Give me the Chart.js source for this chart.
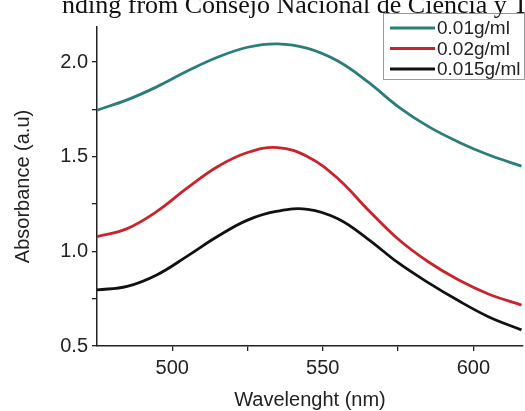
<!DOCTYPE html>
<html>
<head>
<meta charset="utf-8">
<script src="https://cdn.jsdelivr.net/npm/chart.js@4"></script>
<style>
  html, body { margin: 0; padding: 0; background: #fff; overflow: hidden; }
  #wrap { position: relative; width: 525px; height: 411px; overflow: hidden; }
  #header { position: absolute; left: 62px; top: -8px; font-family: "Liberation Serif", "Times New Roman", serif; font-size: 26px; line-height: 26px; white-space: nowrap; color: #111; }
  canvas { position: absolute; left: 0; top: 0; }
</style>
</head>
<body>
<div id="wrap">
  <canvas id="c" width="525" height="411"></canvas>
  <div id="header">nding from Consejo Nacional de Ciencia y T</div>
</div>
<script>
// ---- data ----
const wavelengths = [475, 485, 495, 505, 515, 525, 535, 545, 555, 565, 575, 585, 595, 605, 616];
const conc001  = [1.746, 1.80, 1.87, 1.952, 2.025, 2.078, 2.096, 2.072, 2.005, 1.895, 1.765, 1.66, 1.578, 1.51, 1.45];
const conc002  = [1.077, 1.12, 1.212, 1.335, 1.447, 1.522, 1.548, 1.50, 1.385, 1.22, 1.065, 0.945, 0.85, 0.775, 0.716];
const conc0015 = [0.796, 0.815, 0.877, 0.975, 1.078, 1.165, 1.212, 1.222, 1.172, 1.065, 0.94, 0.835, 0.74, 0.655, 0.585];
const seriesLabels = ['0.01g/ml', '0.02g/ml', '0.015g/ml'];
const seriesColors = ['#2a7d78', '#c9242b', '#111111'];
const xTickValues = [500, 525, 550, 575, 600];
const xTickLabels = ['500', '', '550', '', '600'];
const yTickValues = [0.5, 0.75, 1.0, 1.25, 1.5, 1.75, 2.0];
const yTickLabels = ['0.5', '', '1.0', '', '1.5', '', '2.0'];
const xTitle = 'Wavelenght (nm)';
const yTitle = 'Absorbance (a.u)';

const allSeries = [conc001, conc002, conc0015];
const datasets = allSeries.map((vals, i) => ({
  label: seriesLabels[i],
  data: wavelengths.map((w, j) => ({ x: w, y: vals[j] })),
  borderColor: seriesColors[i],
  backgroundColor: seriesColors[i],
  borderWidth: 2.8,
  pointRadius: 0,
  tension: 0.4,
  fill: false
}));

const legendBox = {
  id: 'legendBox',
  afterDraw(chart) {
    const ctx = chart.ctx;
    const x0 = 383, y0 = 13, w = 141, h = 66;
    ctx.save();
    ctx.fillStyle = '#fff';
    ctx.fillRect(x0, y0, w, h);
    ctx.strokeStyle = '#9a9a9a';
    ctx.lineWidth = 1;
    ctx.strokeRect(x0 + 0.5, y0 + 0.5, w, h);
    ctx.font = '19px "Liberation Sans", Arial, sans-serif';
    ctx.textBaseline = 'middle';
    ctx.textAlign = 'left';
    chart.data.datasets.forEach((ds, i) => {
      const yy = y0 + 15 + i * 20.5;
      ctx.strokeStyle = ds.borderColor;
      ctx.lineWidth = 3;
      ctx.beginPath();
      ctx.moveTo(390, yy);
      ctx.lineTo(435, yy);
      ctx.stroke();
      ctx.fillStyle = '#222';
      ctx.fillText(ds.label, 437, yy + 1);
    });
    ctx.restore();
  }
};

const tickFont = { family: '"Liberation Sans", Arial, sans-serif', size: 20 };
const axisColor = '#222';

new Chart(document.getElementById('c'), {
  type: 'line',
  data: { datasets },
  options: {
    responsive: false,
    devicePixelRatio: 1,
    animation: false,
    layout: { padding: { top: 27, right: 2, bottom: 0, left: 0 } },
    plugins: { legend: { display: false }, tooltip: { enabled: false }, title: { display: false } },
    scales: {
      x: {
        type: 'linear',
        min: 475,
        max: 616.5,
        afterBuildTicks(scale) { scale.ticks = xTickValues.map(v => ({ value: v })); },
        afterFit(scale) { scale.height = 65; },
        ticks: {
          autoSkip: false,
          maxRotation: 0,
          padding: 5,
          color: axisColor,
          font: tickFont,
          callback(v) { const k = xTickValues.indexOf(v); return k >= 0 ? xTickLabels[k] : ''; }
        },
        grid: { drawOnChartArea: false, drawTicks: true, tickLength: 5, color: axisColor, lineWidth: 1.3 },
        border: { display: true, color: axisColor, width: 1.5 },
        title: { display: true, text: xTitle, color: axisColor, font: { family: tickFont.family, size: 20, lineHeight: 1.1 }, padding: { top: 0, bottom: 0 } }
      },
      y: {
        type: 'linear',
        min: 0.5,
        max: 2.185,
        afterBuildTicks(scale) { scale.ticks = yTickValues.map(v => ({ value: v })); },
        afterFit(scale) { scale.width = 97; },
        ticks: {
          autoSkip: false,
          padding: 4,
          color: axisColor,
          font: tickFont,
          callback(v) { const k = yTickValues.findIndex(t => Math.abs(t - v) < 1e-9); return k >= 0 ? yTickLabels[k] : ''; }
        },
        grid: { drawOnChartArea: false, drawTicks: true, tickLength: 5, color: axisColor, lineWidth: 1.3 },
        border: { display: true, color: axisColor, width: 1.5 },
        title: { display: true, text: yTitle, color: axisColor, font: { family: tickFont.family, size: 20, lineHeight: 1.2 }, padding: { top: 11, bottom: 0 } }
      }
    }
  },
  plugins: [legendBox]
});
</script>
</body>
</html>
